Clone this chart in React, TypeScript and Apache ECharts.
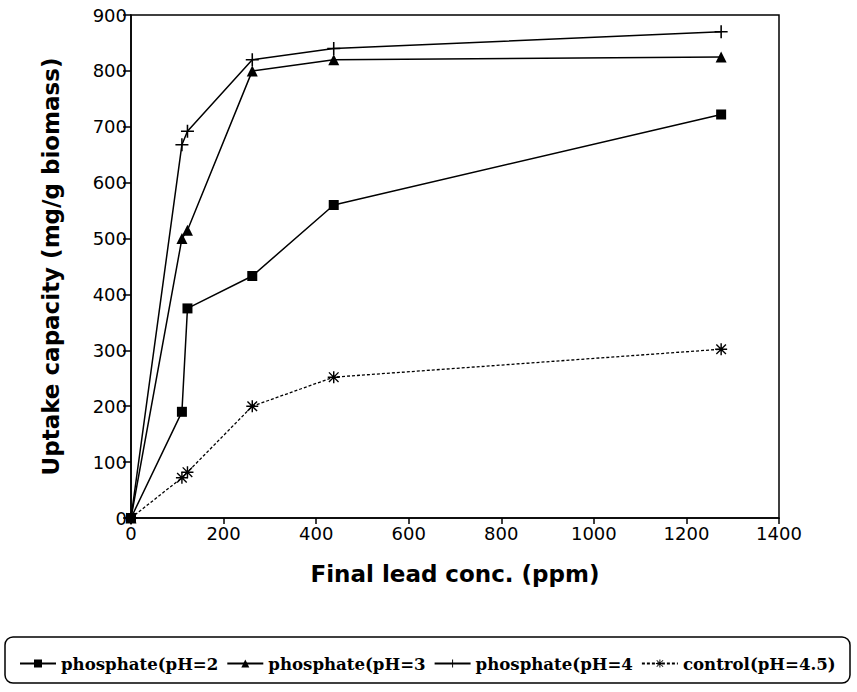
import React, { useEffect, useRef } from "react";
import * as echarts from "echarts";

const xValues = [0, 110, 122, 262, 438, 1275];
const ph2 = [0, 190, 375, 433, 560, 722];
const ph3 = [0, 500, 515, 800, 820, 825];
const ph4 = [0, 668, 692, 820, 840, 870];
const control = [0, 72, 82, 200, 252, 302];
const seriesNames = ["phosphate(pH=2", "phosphate(pH=3", "phosphate(pH=4", "control(pH=4.5)"];

const plusPath = "path://M4.4,0h1.2v4.4h4.4v1.2h-4.4v4.4h-1.2v-4.4h-4.4v-1.2h4.4z";
const starPath =
  "path://M0,4.4h10v1.2h-10z M4.4,0h1.2v10h-1.2z M1.4,0.6L9.4,8.6L8.6,9.4L0.6,1.4z M8.6,0.6L9.4,1.4L1.4,9.4L0.6,8.6z";

export default function App() {
  const ref = useRef<HTMLDivElement>(null);
  useEffect(() => {
    const chart = echarts.init(ref.current!, null, { renderer: "svg" });
    const mk = (vals: number[]) => xValues.map((x, i) => [x, vals[i]]);
    const lineStyle = { color: "#000", width: 1.5 };
    const labelFont = { fontFamily: "DejaVu Sans", fontSize: 18, color: "#000" };
    const nameFont = { fontFamily: "DejaVu Sans", fontWeight: "bold", fontSize: 23, color: "#000" };
    chart.setOption({
      animation: false,
      backgroundColor: "#fff",
      grid: {
        left: 131,
        right: 78,
        top: 15,
        bottom: 174,
        show: true,
        borderColor: "#000",
        borderWidth: 1.5,
      },
      xAxis: {
        type: "value",
        min: 0,
        max: 1400,
        interval: 200,
        name: "Final lead conc. (ppm)",
        nameLocation: "middle",
        nameGap: 44,
        nameTextStyle: nameFont,
        axisLine: { lineStyle: { color: "#000", width: 1.5 } },
        axisTick: { lineStyle: { color: "#000", width: 1.5 }, length: 6 },
        axisLabel: { ...labelFont, margin: 6, formatter: (v: number) => String(v) },
        splitLine: { show: false },
      },
      yAxis: {
        type: "value",
        min: 0,
        max: 900,
        interval: 100,
        name: "Uptake capacity (mg/g biomass)",
        nameLocation: "middle",
        nameGap: 69,
        nameTextStyle: nameFont,
        axisLine: { lineStyle: { color: "#000", width: 1.5 } },
        axisTick: { lineStyle: { color: "#000", width: 1.5 }, length: 8 },
        axisLabel: { ...labelFont, margin: 4 },
        splitLine: { show: false },
      },
      legend: {
        left: 14,
        top: 650,
        itemGap: 8,
        itemWidth: 36,
        itemHeight: 10,
        textStyle: { fontFamily: "DejaVu Serif", fontWeight: "bold", fontSize: 16.6, color: "#000" },
        data: seriesNames,
      },
      graphic: [
        {
          type: "rect",
          shape: { x: 5, y: 637, width: 845, height: 46, r: 8 },
          style: { fill: "none", stroke: "#000", lineWidth: 1.5 },
          silent: true,
        },
      ],
      series: [
        {
          name: seriesNames[0],
          type: "line",
          data: mk(ph2),
          symbol: "rect",
          symbolSize: 10,
          itemStyle: { color: "#000" },
          lineStyle,
        },
        {
          name: seriesNames[1],
          type: "line",
          data: mk(ph3),
          symbol: "triangle",
          symbolSize: 11,
          itemStyle: { color: "#000" },
          lineStyle,
        },
        {
          name: seriesNames[2],
          type: "line",
          data: mk(ph4),
          symbol: plusPath,
          symbolSize: 13,
          itemStyle: { color: "#000" },
          lineStyle,
        },
        {
          name: seriesNames[3],
          type: "line",
          data: mk(control),
          symbol: starPath,
          symbolSize: 12,
          itemStyle: { color: "#000" },
          lineStyle: { color: "#000", width: 1.3, type: [3, 2] },
        },
      ],
    });
    return () => chart.dispose();
  }, []);
  return <div ref={ref} style={{ width: 857, height: 692, position: "absolute", left: 0, top: 0 }} />;
}
